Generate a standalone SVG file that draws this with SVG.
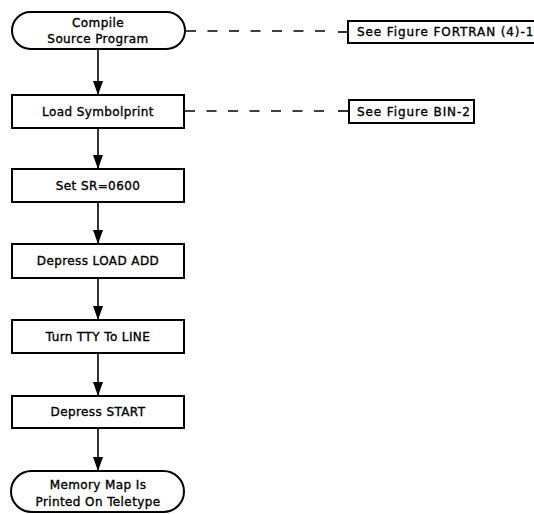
<svg xmlns="http://www.w3.org/2000/svg" width="534" height="514" viewBox="0 0 534 514">
<style>
  .shape { fill: #fff; stroke: #000; stroke-width: 2; }
  .lbl { font-family: "DejaVu Sans", "Liberation Sans", sans-serif; font-size: 12px; fill: #000; stroke: #000; stroke-width: 0.35; text-anchor: middle; letter-spacing: 0.4px; }
  .ref { font-family: "DejaVu Sans", "Liberation Sans", sans-serif; font-size: 12px; fill: #000; stroke: #000; stroke-width: 0.35; text-anchor: start; letter-spacing: 0.9px; }
  .flow { stroke: #000; stroke-width: 1.6; fill: none; }
  .dash { stroke: #000; stroke-width: 1.6; fill: none; stroke-dasharray: 10 11.5; }
  .tick { stroke: #000; stroke-width: 1.6; fill: none; }
</style>
<defs>
  <marker id="arrow" markerUnits="userSpaceOnUse" markerWidth="16" markerHeight="12" refX="14" refY="5" orient="auto">
    <path d="M0,0 L14,5 L0,10 Z" fill="#000"/>
  </marker>
</defs>

<g id="connectors">
  <line class="flow" x1="98" y1="49" x2="98" y2="95" marker-end="url(#arrow)"/>
  <line class="flow" x1="98" y1="128" x2="98" y2="169" marker-end="url(#arrow)"/>
  <line class="flow" x1="98" y1="202" x2="98" y2="244" marker-end="url(#arrow)"/>
  <line class="flow" x1="98" y1="278" x2="98" y2="320" marker-end="url(#arrow)"/>
  <line class="flow" x1="98" y1="353" x2="98" y2="396" marker-end="url(#arrow)"/>
  <line class="flow" x1="98" y1="428" x2="98" y2="471" marker-end="url(#arrow)"/>
  <line class="dash" x1="186" y1="31" x2="330" y2="31"/>
  <line class="tick" x1="338" y1="32" x2="348" y2="32"/>
  <line class="dash" x1="185" y1="111" x2="330" y2="111"/>
  <line class="tick" x1="338" y1="111" x2="349" y2="111"/>
</g>

<g id="compile">
  <rect class="shape" x="12" y="12" width="173" height="37" rx="18.5" ry="18.5"/>
  <text class="lbl" x="98" y="27">Compile</text>
  <text class="lbl" x="98" y="43">Source Program</text>
</g>

<g id="load">
  <rect class="shape" x="12" y="95" width="172" height="33"/>
  <text class="lbl" x="98" y="116">Load Symbolprint</text>
</g>

<g id="setsr">
  <rect class="shape" x="12" y="169" width="172" height="33"/>
  <text class="lbl" x="98" y="190">Set SR=0600</text>
</g>

<g id="loadadd">
  <rect class="shape" x="12" y="244" width="172" height="34"/>
  <text class="lbl" x="98" y="265">Depress LOAD ADD</text>
</g>

<g id="tty">
  <rect class="shape" x="12" y="320" width="172" height="33"/>
  <text class="lbl" x="98" y="341">Turn TTY To LINE</text>
</g>

<g id="start">
  <rect class="shape" x="12" y="396" width="172" height="32"/>
  <text class="lbl" x="98" y="416">Depress START</text>
</g>

<g id="memmap">
  <rect class="shape" x="11" y="471" width="173" height="41" rx="20.5" ry="20.5"/>
  <text class="lbl" x="98" y="489">Memory Map Is</text>
  <text class="lbl" x="98" y="506">Printed On Teletype</text>
</g>

<g id="ref-fortran">
  <rect class="shape" x="348" y="21" width="200" height="22"/>
  <text class="ref" x="357" y="36">See Figure FORTRAN (4)-1</text>
</g>

<g id="ref-bin">
  <rect class="shape" x="349" y="100" width="125" height="23"/>
  <text class="ref" x="357" y="116">See Figure BIN-2</text>
</g>
</svg>
